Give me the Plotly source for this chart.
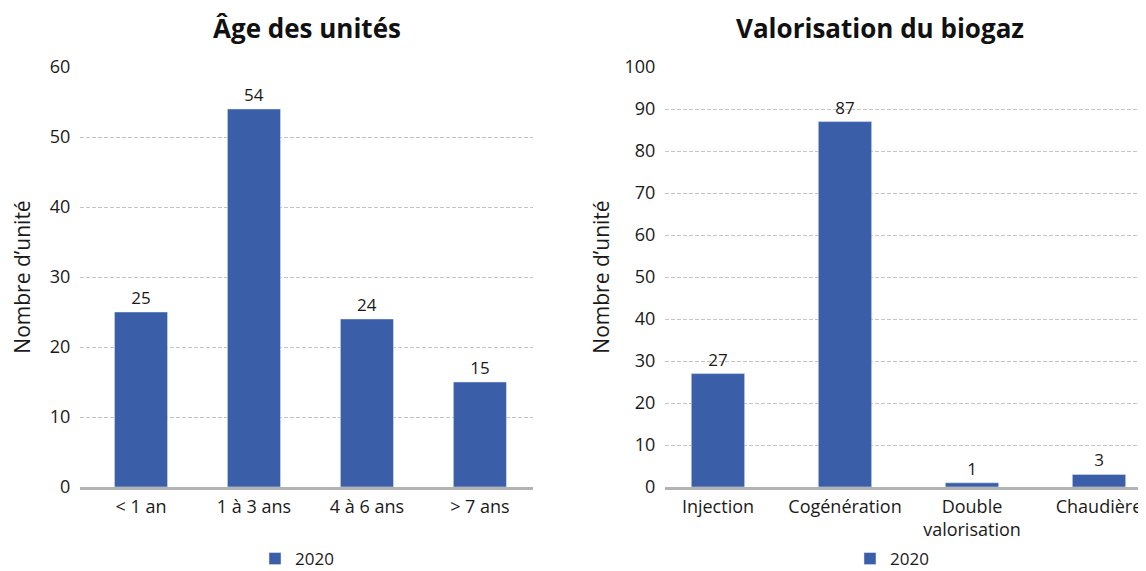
import plotly.graph_objects as go

# Data
age_categories = ["< 1 an", "1 à 3 ans", "4 à 6 ans", "> 7 ans"]
age_values = [25, 54, 24, 15]

valo_categories = ["Injection", "Cogénération", "Double<br>valorisation", "Chaudière"]
valo_values = [27, 87, 1, 3]

series_name = "2020"
title_left = "Âge des unités"
title_right = "Valorisation du biogaz"
y_title = "Nombre d’unité"

BAR = "#3B5EA9"
FONT = "'Open Sans', 'Noto Sans', sans-serif"
# page body has an 8px margin: figure sized to fit the window
OFF = 8
W, H = 1146 - OFF, 571 - OFF
TOP, BOT = 67 - OFF, 487 - OFF


def px(x):
    return (x - OFF) / W


fig = go.Figure()
fig.add_trace(go.Bar(
    x=age_categories, y=age_values, name=series_name, marker_color=BAR,
    width=0.47, text=age_values, textposition="outside", cliponaxis=False,
    textfont=dict(size=17, color="#1a1a1a"), xaxis="x", yaxis="y",
    legend="legend", showlegend=True,
))
fig.add_trace(go.Bar(
    x=valo_categories, y=valo_values, name=series_name, marker_color=BAR,
    width=0.42, text=valo_values, textposition="outside", cliponaxis=False,
    textfont=dict(size=17, color="#1a1a1a"), xaxis="x2", yaxis="y2",
    legend="legend2", showlegend=True,
))

tickfont = dict(size=18, color="#1a1a1a")
grid = dict(showgrid=True, gridcolor="#c4c4c4", griddash="4px,2px", gridwidth=1)

fig.update_layout(
    width=W, height=H,
    margin=dict(l=0, r=0, t=TOP, b=H - BOT),
    plot_bgcolor="white", paper_bgcolor="white",
    font=dict(family=FONT, color="#1a1a1a"),
    showlegend=True,
    xaxis=dict(domain=[px(80), px(533)], anchor="y", range=[-0.54, 3.47],
               showgrid=False, ticks="outside", ticklen=1, tickcolor="rgba(0,0,0,0)",
               zeroline=False, showline=True, linecolor="#b3b3b3", linewidth=3, tickfont=tickfont),
    yaxis=dict(domain=[0, 1], anchor="x", range=[0, 60], dtick=10,
               ticks="outside", ticklen=5, tickcolor="rgba(0,0,0,0)",
               zeroline=False, showline=False, tickfont=tickfont, automargin=False,
               title=dict(text=y_title, font=dict(size=21), standoff=14),
               **grid),
    xaxis2=dict(domain=[px(665), 1], anchor="y2", range=[-0.417, 3.37],
                showgrid=False, ticks="outside", ticklen=1, tickcolor="rgba(0,0,0,0)",
                zeroline=False, showline=True, linecolor="#b3b3b3", linewidth=3, tickfont=tickfont),
    yaxis2=dict(domain=[0, 1], anchor="x2", range=[0, 100], dtick=10,
                ticks="outside", ticklen=5, tickcolor="rgba(0,0,0,0)",
                zeroline=False, showline=False, tickfont=tickfont, automargin=False,
                title=dict(text=y_title, font=dict(size=21), standoff=9),
                **grid),
    legend=dict(orientation="h", x=px(297), xanchor="center", yref="container",
                y=(571 - 559) / H, yanchor="middle",
                font=dict(size=17), bgcolor="rgba(0,0,0,0)", visible=True),
    legend2=dict(orientation="h", x=px(892), xanchor="center", yref="container",
                 y=(571 - 559) / H, yanchor="middle",
                 font=dict(size=17), bgcolor="rgba(0,0,0,0)", visible=True),
)
title_y = (BOT - (28 - OFF)) / (BOT - TOP)
fig.add_annotation(text=f"<b>{title_left}</b>", x=px(307), y=title_y, xref="paper", yref="paper",
                   showarrow=False, font=dict(size=26, color="#111"), xanchor="center", yanchor="middle")
fig.add_annotation(text=f"<b>{title_right}</b>", x=px(880), y=title_y, xref="paper", yref="paper",
                   showarrow=False, font=dict(size=26, color="#111"), xanchor="center", yanchor="middle")

fig.write_html("out.html")
